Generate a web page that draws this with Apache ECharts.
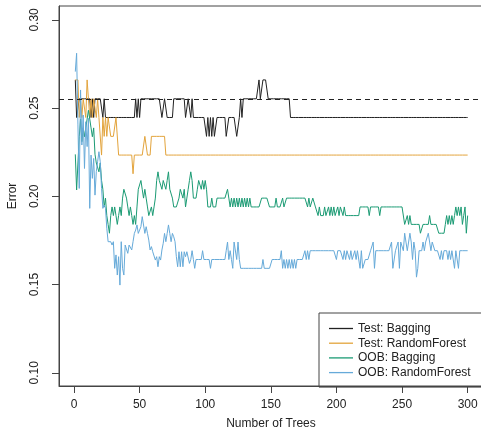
<!DOCTYPE html>
<html>
<head>
<meta charset="utf-8">
<script src="https://cdn.jsdelivr.net/npm/echarts@6/dist/echarts.min.js"></script>
<style>
  html, body { margin: 0; padding: 0; background: #fff; }
  #chart { width: 481px; height: 430px; }
</style>
</head>
<body>
<div id="chart"></div>
<script>
// error rate per number of trees (1..300)
const testBagging = [
  0.2660, 0.2447, 0.2447, 0.2553, 0.2553, 0.2553, 0.2553, 0.2553, 0.2553, 0.2553,
  0.2553, 0.2553, 0.2447, 0.2553, 0.2447, 0.2553, 0.2553, 0.2553, 0.2553, 0.2553,
  0.2553, 0.2447, 0.2553, 0.2447, 0.2447, 0.2447, 0.2447, 0.2447, 0.2447, 0.2447,
  0.2447, 0.2447, 0.2447, 0.2447, 0.2447, 0.2447, 0.2447, 0.2447, 0.2447, 0.2447,
  0.2447, 0.2447, 0.2447, 0.2447, 0.2447, 0.2447, 0.2553, 0.2447, 0.2553, 0.2447,
  0.2553, 0.2553, 0.2553, 0.2553, 0.2553, 0.2553, 0.2553, 0.2553, 0.2553, 0.2553,
  0.2553, 0.2553, 0.2553, 0.2553, 0.2553, 0.2553, 0.2447, 0.2447, 0.2553, 0.2553,
  0.2447, 0.2447, 0.2447, 0.2447, 0.2447, 0.2553, 0.2553, 0.2553, 0.2553, 0.2553,
  0.2553, 0.2553, 0.2553, 0.2553, 0.2447, 0.2447, 0.2553, 0.2553, 0.2447, 0.2553,
  0.2447, 0.2447, 0.2447, 0.2447, 0.2447, 0.2447, 0.2447, 0.2447, 0.2447, 0.2447,
  0.2340, 0.2447, 0.2340, 0.2447, 0.2340, 0.2447, 0.2340, 0.2340, 0.2447, 0.2447,
  0.2447, 0.2447, 0.2447, 0.2447, 0.2447, 0.2340, 0.2340, 0.2447, 0.2447, 0.2447,
  0.2447, 0.2447, 0.2447, 0.2340, 0.2340, 0.2447, 0.2553, 0.2447, 0.2553, 0.2553,
  0.2553, 0.2553, 0.2553, 0.2553, 0.2553, 0.2553, 0.2553, 0.2553, 0.2553, 0.2553,
  0.2660, 0.2553, 0.2553, 0.2660, 0.2660, 0.2660, 0.2660, 0.2553, 0.2553, 0.2553,
  0.2553, 0.2553, 0.2553, 0.2553, 0.2553, 0.2553, 0.2553, 0.2553, 0.2553, 0.2553,
  0.2553, 0.2553, 0.2553, 0.2553, 0.2447, 0.2447, 0.2447, 0.2447, 0.2447, 0.2447,
  0.2447, 0.2447, 0.2447, 0.2447, 0.2447, 0.2447, 0.2447, 0.2447, 0.2447, 0.2447,
  0.2447, 0.2447, 0.2447, 0.2447, 0.2447, 0.2447, 0.2447, 0.2447, 0.2447, 0.2447,
  0.2447, 0.2447, 0.2447, 0.2447, 0.2447, 0.2447, 0.2447, 0.2447, 0.2447, 0.2447,
  0.2447, 0.2447, 0.2447, 0.2447, 0.2447, 0.2447, 0.2447, 0.2447, 0.2447, 0.2447,
  0.2447, 0.2447, 0.2447, 0.2447, 0.2447, 0.2447, 0.2447, 0.2447, 0.2447, 0.2447,
  0.2447, 0.2447, 0.2447, 0.2447, 0.2447, 0.2447, 0.2447, 0.2447, 0.2447, 0.2447,
  0.2447, 0.2447, 0.2447, 0.2447, 0.2447, 0.2447, 0.2447, 0.2447, 0.2447, 0.2447,
  0.2447, 0.2447, 0.2447, 0.2447, 0.2447, 0.2447, 0.2447, 0.2447, 0.2447, 0.2447,
  0.2447, 0.2447, 0.2447, 0.2447, 0.2447, 0.2447, 0.2447, 0.2447, 0.2447, 0.2447,
  0.2447, 0.2447, 0.2447, 0.2447, 0.2447, 0.2447, 0.2447, 0.2447, 0.2447, 0.2447,
  0.2447, 0.2447, 0.2447, 0.2447, 0.2447, 0.2447, 0.2447, 0.2447, 0.2447, 0.2447,
  0.2447, 0.2447, 0.2447, 0.2447, 0.2447, 0.2447, 0.2447, 0.2447, 0.2447, 0.2447,
  0.2447, 0.2447, 0.2447, 0.2447, 0.2447, 0.2447, 0.2447, 0.2447, 0.2447, 0.2447
];

const testRF = [
  0.2660, 0.2660, 0.2660, 0.2447, 0.2553, 0.2447, 0.2553, 0.2553, 0.2447, 0.2660,
  0.2553, 0.2447, 0.2553, 0.2447, 0.2553, 0.2553, 0.2447, 0.2553, 0.2447, 0.2447,
  0.2234, 0.2447, 0.2340, 0.2447, 0.2340, 0.2447, 0.2447, 0.2340, 0.2340, 0.2340,
  0.2340, 0.2447, 0.2447, 0.2234, 0.2234, 0.2234, 0.2234, 0.2234, 0.2234, 0.2234,
  0.2234, 0.2234, 0.2234, 0.2234, 0.2128, 0.2234, 0.2234, 0.2234, 0.2234, 0.2234,
  0.2234, 0.2234, 0.2234, 0.2340, 0.2340, 0.2234, 0.2234, 0.2234, 0.2340, 0.2340,
  0.2340, 0.2340, 0.2340, 0.2340, 0.2340, 0.2340, 0.2340, 0.2340, 0.2340, 0.2234,
  0.2234, 0.2234, 0.2234, 0.2234, 0.2234, 0.2234, 0.2234, 0.2234, 0.2234, 0.2234,
  0.2234, 0.2234, 0.2234, 0.2234, 0.2234, 0.2234, 0.2234, 0.2234, 0.2234, 0.2234,
  0.2234, 0.2234, 0.2234, 0.2234, 0.2234, 0.2234, 0.2234, 0.2234, 0.2234, 0.2234,
  0.2234, 0.2234, 0.2234, 0.2234, 0.2234, 0.2234, 0.2234, 0.2234, 0.2234, 0.2234,
  0.2234, 0.2234, 0.2234, 0.2234, 0.2234, 0.2234, 0.2234, 0.2234, 0.2234, 0.2234,
  0.2234, 0.2234, 0.2234, 0.2234, 0.2234, 0.2234, 0.2234, 0.2234, 0.2234, 0.2234,
  0.2234, 0.2234, 0.2234, 0.2234, 0.2234, 0.2234, 0.2234, 0.2234, 0.2234, 0.2234,
  0.2234, 0.2234, 0.2234, 0.2234, 0.2234, 0.2234, 0.2234, 0.2234, 0.2234, 0.2234,
  0.2234, 0.2234, 0.2234, 0.2234, 0.2234, 0.2234, 0.2234, 0.2234, 0.2234, 0.2234,
  0.2234, 0.2234, 0.2234, 0.2234, 0.2234, 0.2234, 0.2234, 0.2234, 0.2234, 0.2234,
  0.2234, 0.2234, 0.2234, 0.2234, 0.2234, 0.2234, 0.2234, 0.2234, 0.2234, 0.2234,
  0.2234, 0.2234, 0.2234, 0.2234, 0.2234, 0.2234, 0.2234, 0.2234, 0.2234, 0.2234,
  0.2234, 0.2234, 0.2234, 0.2234, 0.2234, 0.2234, 0.2234, 0.2234, 0.2234, 0.2234,
  0.2234, 0.2234, 0.2234, 0.2234, 0.2234, 0.2234, 0.2234, 0.2234, 0.2234, 0.2234,
  0.2234, 0.2234, 0.2234, 0.2234, 0.2234, 0.2234, 0.2234, 0.2234, 0.2234, 0.2234,
  0.2234, 0.2234, 0.2234, 0.2234, 0.2234, 0.2234, 0.2234, 0.2234, 0.2234, 0.2234,
  0.2234, 0.2234, 0.2234, 0.2234, 0.2234, 0.2234, 0.2234, 0.2234, 0.2234, 0.2234,
  0.2234, 0.2234, 0.2234, 0.2234, 0.2234, 0.2234, 0.2234, 0.2234, 0.2234, 0.2234,
  0.2234, 0.2234, 0.2234, 0.2234, 0.2234, 0.2234, 0.2234, 0.2234, 0.2234, 0.2234,
  0.2234, 0.2234, 0.2234, 0.2234, 0.2234, 0.2234, 0.2234, 0.2234, 0.2234, 0.2234,
  0.2234, 0.2234, 0.2234, 0.2234, 0.2234, 0.2234, 0.2234, 0.2234, 0.2234, 0.2234,
  0.2234, 0.2234, 0.2234, 0.2234, 0.2234, 0.2234, 0.2234, 0.2234, 0.2234, 0.2234,
  0.2234, 0.2234, 0.2234, 0.2234, 0.2234, 0.2234, 0.2234, 0.2234, 0.2234, 0.2234
];

const oobBagging = [
  0.2238, 0.2036, 0.2045, 0.2338, 0.2438, 0.2310, 0.2388, 0.2338, 0.2388, 0.2438,
  0.2488, 0.2438, 0.2388, 0.2338, 0.2388, 0.2239, 0.2189, 0.2189, 0.2139, 0.2189,
  0.2090, 0.2040, 0.1940, 0.1990, 0.1891, 0.1841, 0.1791, 0.1891, 0.1940, 0.1891,
  0.1940, 0.1891, 0.1841, 0.1891, 0.1940, 0.1891, 0.1990, 0.2040, 0.2040, 0.1990,
  0.1940, 0.1891, 0.1940, 0.1891, 0.1841, 0.1891, 0.1841, 0.1940, 0.2040, 0.2040,
  0.2090, 0.2040, 0.1990, 0.2040, 0.1990, 0.1940, 0.1891, 0.1891, 0.1940, 0.1891,
  0.1940, 0.1990, 0.2090, 0.2139, 0.2090, 0.2090, 0.2040, 0.2090, 0.2090, 0.2040,
  0.2090, 0.2139, 0.2040, 0.2040, 0.1990, 0.1940, 0.1940, 0.1940, 0.1940, 0.1990,
  0.2040, 0.2040, 0.1990, 0.2040, 0.1940, 0.1990, 0.2040, 0.2090, 0.2139, 0.2090,
  0.1990, 0.1990, 0.1990, 0.2040, 0.2090, 0.2090, 0.2040, 0.2090, 0.2040, 0.2090,
  0.2040, 0.1940, 0.1940, 0.1940, 0.1990, 0.1940, 0.1940, 0.1940, 0.1990, 0.1990,
  0.1990, 0.1990, 0.1990, 0.1990, 0.1990, 0.1990, 0.2040, 0.1990, 0.1940, 0.1990,
  0.1940, 0.1990, 0.1940, 0.1990, 0.1940, 0.1990, 0.1940, 0.1990, 0.1940, 0.1990,
  0.1940, 0.1990, 0.1940, 0.1990, 0.1940, 0.1940, 0.1940, 0.1940, 0.1940, 0.1940,
  0.1940, 0.1940, 0.1990, 0.1990, 0.1990, 0.1990, 0.1990, 0.1990, 0.1940, 0.1940,
  0.1940, 0.1940, 0.1940, 0.1990, 0.1940, 0.1940, 0.1940, 0.1940, 0.1990, 0.1940,
  0.1940, 0.1990, 0.1990, 0.1990, 0.1990, 0.1990, 0.1990, 0.1990, 0.1990, 0.1990,
  0.1990, 0.1990, 0.1990, 0.1990, 0.1990, 0.1990, 0.1990, 0.1940, 0.1990, 0.1940,
  0.1940, 0.1990, 0.1990, 0.1940, 0.1940, 0.1891, 0.1940, 0.1891, 0.1891, 0.1891,
  0.1940, 0.1891, 0.1891, 0.1940, 0.1891, 0.1940, 0.1891, 0.1940, 0.1891, 0.1891,
  0.1940, 0.1891, 0.1940, 0.1940, 0.1891, 0.1940, 0.1891, 0.1891, 0.1891, 0.1891,
  0.1891, 0.1891, 0.1891, 0.1891, 0.1891, 0.1891, 0.1891, 0.1940, 0.1940, 0.1940,
  0.1940, 0.1940, 0.1940, 0.1940, 0.1891, 0.1940, 0.1940, 0.1940, 0.1940, 0.1940,
  0.1940, 0.1940, 0.1891, 0.1940, 0.1940, 0.1940, 0.1940, 0.1940, 0.1940, 0.1940,
  0.1940, 0.1940, 0.1940, 0.1940, 0.1940, 0.1940, 0.1940, 0.1940, 0.1940, 0.1940,
  0.1940, 0.1841, 0.1841, 0.1891, 0.1841, 0.1891, 0.1841, 0.1841, 0.1841, 0.1841,
  0.1841, 0.1841, 0.1841, 0.1791, 0.1791, 0.1841, 0.1841, 0.1841, 0.1841, 0.1841,
  0.1891, 0.1841, 0.1841, 0.1841, 0.1841, 0.1841, 0.1841, 0.1791, 0.1791, 0.1791,
  0.1791, 0.1791, 0.1841, 0.1891, 0.1841, 0.1891, 0.1841, 0.1891, 0.1841, 0.1891,
  0.1940, 0.1891, 0.1940, 0.1891, 0.1940, 0.1841, 0.1891, 0.1940, 0.1791, 0.1891
];

const oobRF = [
  0.2707, 0.2811, 0.2405, 0.2045, 0.2603, 0.2291, 0.2461, 0.2158, 0.2423, 0.2282,
  0.2442, 0.1932, 0.2234, 0.2102, 0.2215, 0.2007, 0.2140, 0.2196, 0.2253, 0.2196,
  0.2045, 0.1932, 0.1951, 0.1932, 0.1819, 0.1743, 0.1752, 0.1743, 0.1724, 0.1743,
  0.1592, 0.1668, 0.1554, 0.1658, 0.1497, 0.1743, 0.1592, 0.1554, 0.1724, 0.1724,
  0.1677, 0.1724, 0.1724, 0.1696, 0.1743, 0.1790, 0.1809, 0.1838, 0.1790, 0.1809,
  0.1828, 0.1885, 0.1885, 0.1790, 0.1828, 0.1790, 0.1752, 0.1696, 0.1715, 0.1686,
  0.1677, 0.1639, 0.1658, 0.1601, 0.1658, 0.1639, 0.1696, 0.1734, 0.1790, 0.1743,
  0.1790, 0.1838, 0.1790, 0.1743, 0.1790, 0.1771, 0.1743, 0.1658, 0.1601, 0.1686,
  0.1601, 0.1686, 0.1601, 0.1686, 0.1658, 0.1686, 0.1692, 0.1620, 0.1642, 0.1692,
  0.1642, 0.1592, 0.1642, 0.1642, 0.1642, 0.1642, 0.1642, 0.1692, 0.1642, 0.1642,
  0.1642, 0.1642, 0.1642, 0.1592, 0.1642, 0.1642, 0.1642, 0.1642, 0.1642, 0.1642,
  0.1642, 0.1642, 0.1642, 0.1642, 0.1642, 0.1692, 0.1741, 0.1642, 0.1692, 0.1642,
  0.1592, 0.1741, 0.1741, 0.1642, 0.1741, 0.1642, 0.1592, 0.1592, 0.1592, 0.1592,
  0.1592, 0.1592, 0.1592, 0.1592, 0.1592, 0.1592, 0.1592, 0.1592, 0.1592, 0.1592,
  0.1592, 0.1592, 0.1592, 0.1642, 0.1592, 0.1592, 0.1592, 0.1592, 0.1592, 0.1592,
  0.1642, 0.1642, 0.1642, 0.1642, 0.1642, 0.1642, 0.1642, 0.1692, 0.1592, 0.1642,
  0.1592, 0.1642, 0.1592, 0.1642, 0.1592, 0.1642, 0.1592, 0.1642, 0.1592, 0.1642,
  0.1642, 0.1642, 0.1642, 0.1642, 0.1642, 0.1692, 0.1642, 0.1692, 0.1642, 0.1692,
  0.1692, 0.1692, 0.1692, 0.1692, 0.1692, 0.1692, 0.1692, 0.1692, 0.1692, 0.1692,
  0.1692, 0.1692, 0.1692, 0.1692, 0.1692, 0.1692, 0.1692, 0.1692, 0.1692, 0.1642,
  0.1692, 0.1692, 0.1692, 0.1692, 0.1642, 0.1692, 0.1642, 0.1692, 0.1692, 0.1642,
  0.1692, 0.1642, 0.1642, 0.1692, 0.1642, 0.1692, 0.1692, 0.1592, 0.1692, 0.1592,
  0.1592, 0.1642, 0.1642, 0.1642, 0.1642, 0.1692, 0.1692, 0.1741, 0.1592, 0.1692,
  0.1692, 0.1692, 0.1692, 0.1692, 0.1692, 0.1692, 0.1692, 0.1692, 0.1692, 0.1692,
  0.1692, 0.1741, 0.1592, 0.1592, 0.1692, 0.1692, 0.1741, 0.1592, 0.1741, 0.1741,
  0.1692, 0.1791, 0.1741, 0.1692, 0.1741, 0.1791, 0.1741, 0.1642, 0.1741, 0.1692,
  0.1542, 0.1592, 0.1692, 0.1692, 0.1692, 0.1741, 0.1692, 0.1741, 0.1741, 0.1791,
  0.1791, 0.1692, 0.1741, 0.1741, 0.1692, 0.1692, 0.1692, 0.1692, 0.1642, 0.1692,
  0.1642, 0.1692, 0.1692, 0.1692, 0.1642, 0.1692, 0.1642, 0.1692, 0.1692, 0.1592,
  0.1692, 0.1692, 0.1592, 0.1692, 0.1692, 0.1692, 0.1692, 0.1692, 0.1692, 0.1692
];

const singleTreeError = 0.2553
const xTicks = [0, 50, 100, 150, 200, 250, 300]
const yTicks = [0.10, 0.15, 0.20, 0.25, 0.30]
const seriesNames = ['Test: Bagging', 'Test: RandomForest', 'OOB: Bagging', 'OOB: RandomForest']
const seriesColors = ['#222222', '#E3A43C', '#1B9B74', '#66AAD9']

const trees = testBagging.map((_, i) => i + 1)
const font = 'Liberation Sans, Arial, Helvetica, sans-serif'

function toPairs(values) {
  return trees.map((t, i) => [t, values[i]])
}

const chart = echarts.init(document.getElementById('chart'), null, { renderer: 'canvas' })

const allValues = [testBagging, testRF, oobBagging, oobRF]

chart.setOption({
  animation: false,
  backgroundColor: '#fff',
  grid: {
    left: 59,
    right: -2,
    top: 6,
    bottom: 44,
    outerBoundsMode: 'none',
    containLabel: false,
    show: true,
    borderColor: '#444',
    borderWidth: 1,
  },
  xAxis: {
    type: 'value',
    min: -11.43,
    max: 311.7,
    name: 'Number of Trees',
    nameLocation: 'middle',
    nameGap: 32,
    nameTextStyle: { fontFamily: font, fontSize: 12, color: '#222', verticalAlign: 'top' },
    axisLine: { show: true, onZero: false, lineStyle: { color: '#444', width: 1 } },
    axisTick: { show: true, length: 7, customValues: xTicks, lineStyle: { color: '#444' } },
    axisLabel: { customValues: xTicks, margin: 13, fontFamily: font, fontSize: 12, color: '#222' },
    splitLine: { show: false },
  },
  yAxis: {
    type: 'value',
    min: 0.0925,
    max: 0.3079,
    name: 'Error',
    nameLocation: 'middle',
    nameRotate: 90,
    nameGap: 40,
    nameTextStyle: { fontFamily: font, fontSize: 12, color: '#222' },
    axisLine: { show: true, onZero: false, lineStyle: { color: '#444', width: 1 } },
    axisTick: { show: true, length: 7, customValues: yTicks, lineStyle: { color: '#444' } },
    axisLabel: {
      customValues: yTicks,
      rotate: 90,
      margin: 18,
      fontFamily: font,
      fontSize: 12,
      color: '#222',
      formatter: (v) => v.toFixed(2),
    },
    splitLine: { show: false },
  },
  legend: {
    data: seriesNames,
    orient: 'vertical',
    left: 319,
    top: 313,
    padding: [9.5, 40, 8.5, 10],
    icon: 'rect',
    itemWidth: 24,
    itemHeight: 1.3,
    itemGap: 2.7,
    borderColor: '#444',
    borderWidth: 1,
    textStyle: { fontFamily: font, fontSize: 12, color: '#222' },
  },
  series: seriesNames.map((name, k) => ({
    name: name,
    type: 'line',
    symbol: 'none',
    data: toPairs(allValues[k]),
    itemStyle: { color: seriesColors[k] },
    lineStyle: { color: seriesColors[k], width: 1 },
    markLine: k === 0 ? {
      silent: true,
      precision: 4,
      symbol: ['none', 'none'],
      label: { show: false },
      lineStyle: { color: '#222', type: [5, 4], width: 1 },
      data: [{ yAxis: singleTreeError }],
    } : undefined,
  })),
})
</script>
</body>
</html>
